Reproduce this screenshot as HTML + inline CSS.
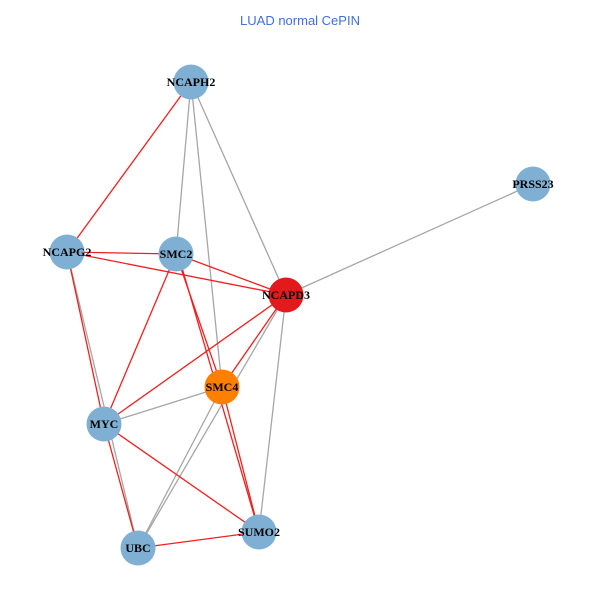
<!DOCTYPE html>
<html><head><style>body{margin:0;background:#fff}</style></head><body>
<svg width="600" height="600" xmlns="http://www.w3.org/2000/svg">
<rect width="600" height="600" fill="#fff"/>
<text x="300" y="25" text-anchor="middle" font-family="Liberation Sans, sans-serif" font-size="13" fill="#3f6fe0">LUAD normal CePIN</text>
<g stroke="#a6a6a6" stroke-width="1.3">
<line x1="191" y1="82" x2="176" y2="254"/>
<line x1="191" y1="82" x2="222" y2="387"/>
<line x1="191" y1="82" x2="286" y2="295"/>
<line x1="533" y1="184" x2="286" y2="295"/>
<line x1="67" y1="252" x2="138" y2="548"/>
<line x1="104" y1="424" x2="222" y2="387"/>
<line x1="286" y1="295" x2="138" y2="548"/>
<line x1="222" y1="387" x2="138" y2="548"/>
<line x1="286" y1="295" x2="259" y2="532"/>
</g>
<g stroke="#f02020" stroke-width="1.3">
<line x1="191" y1="82" x2="67" y2="252"/>
<line x1="67" y1="252" x2="176" y2="254"/>
<line x1="67" y1="252" x2="286" y2="295"/>
<line x1="67" y1="252" x2="104" y2="424"/>
<line x1="176" y1="254" x2="286" y2="295"/>
<line x1="176" y1="254" x2="104" y2="424"/>
<line x1="176" y1="254" x2="222" y2="387"/>
<line x1="178" y1="254" x2="259" y2="532"/>
<line x1="222" y1="387" x2="259" y2="532"/>
<line x1="286" y1="295" x2="104" y2="424"/>
<line x1="286" y1="295" x2="222" y2="387"/>
<line x1="104" y1="424" x2="259" y2="532"/>
<line x1="104" y1="424" x2="138" y2="548"/>
<line x1="138" y1="548" x2="259" y2="532"/>
</g>
<g fill="#7fb0d3">
<circle cx="191" cy="82" r="17.5"/>
<circle cx="533" cy="184" r="17.5"/>
<circle cx="67" cy="252" r="17.5"/>
<circle cx="176" cy="254" r="17.5"/>
<circle cx="104" cy="424" r="17.5"/>
<circle cx="259" cy="532" r="17.5"/>
<circle cx="138" cy="548" r="17.5"/>
</g>
<circle cx="286" cy="295" r="17.5" fill="#e31a1c"/>
<circle cx="222" cy="387" r="17.5" fill="#ff7f00"/>
<g font-family="Liberation Serif, serif" font-weight="bold" font-size="12" text-anchor="middle" fill="#000">
<text x="191" y="86">NCAPH2</text>
<text x="533" y="188">PRSS23</text>
<text x="67" y="256">NCAPG2</text>
<text x="176" y="258">SMC2</text>
<text x="286" y="299">NCAPD3</text>
<text x="222" y="391">SMC4</text>
<text x="104" y="428">MYC</text>
<text x="259" y="536">SUMO2</text>
<text x="138" y="552">UBC</text>
</g>
</svg>
</body></html>
